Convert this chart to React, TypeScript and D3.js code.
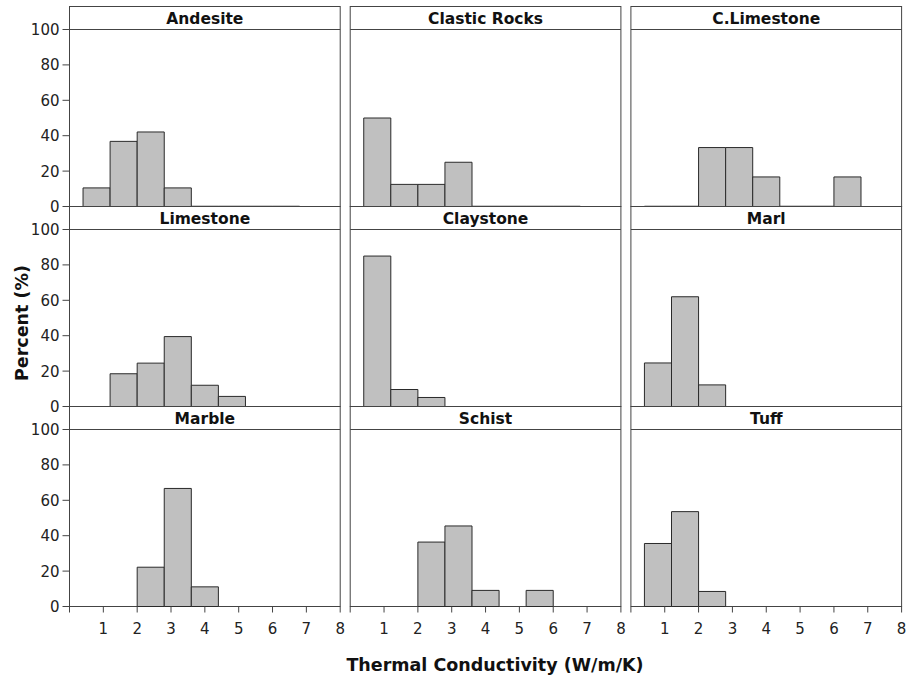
import React from "react";
import * as d3 from "d3";

// bins are 0.8 W/m/K wide, starting at 0.4
const binEdges = [0.4, 1.2, 2.0, 2.8, 3.6, 4.4, 5.2, 6.0, 6.8];

const rocks = [
  "Andesite",
  "Clastic Rocks",
  "C.Limestone",
  "Limestone",
  "Claystone",
  "Marl",
  "Marble",
  "Schist",
  "Tuff",
];

// percent per bin, null = no bar drawn
const andesite = [10.5, 36.8, 42.1, 10.5, 0, 0, 0, 0];
const clasticRocks = [50, 12.5, 12.5, 25, 0, 0, 0, 0];
const cLimestone = [0, 0, 33.3, 33.3, 16.7, 0, 0, 16.7];
const limestone = [null, 18.5, 24.5, 39.5, 12, 5.7, null, null];
const claystone = [85, 9.6, 5.1, null, null, null, null, null];
const marl = [24.6, 62, 12.2, null, null, null, null, null];
const marble = [null, null, 22.2, 66.7, 11.1, null, null, null];
const schist = [null, null, 36.4, 45.5, 9.1, null, 9.1, null];
const tuff = [35.6, 53.6, 8.5, null, null, null, null, null];

const series = [andesite, clasticRocks, cLimestone, limestone, claystone, marl, marble, schist, tuff];

const yTicks = [0, 20, 40, 60, 80, 100];
const xTicks = [0, 1, 2, 3, 4, 5, 6, 7, 8];

const left = 69.5;
const top = 6.5;
const pw = 270.7;
const gap = 10;
const stripH = 23;
const ph = 177;
const font = "'DejaVu Sans', Verdana, sans-serif";
const lineColor = "#444";

export default function App() {
  const x = d3.scaleLinear().domain([0, 8]).range([0, pw]);
  const y = d3.scaleLinear().domain([0, 100]).range([ph, 0]);

  return (
    <div style={{ position: "absolute", left: 0, top: 0 }}>
      <svg width={906} height={678} style={{ background: "#fff", display: "block" }}>
        {rocks.map((name, i) => {
          const col = i % 3;
          const row = Math.floor(i / 3);
          const px = left + col * (pw + gap);
          const py = top + row * (stripH + ph);
          const vals = series[i];
          return (
            <g key={name} transform={`translate(${px},${py})`}>
              <rect x={0} y={0} width={pw} height={stripH + ph} fill="#fff" stroke={lineColor} />
              <line x1={0} x2={pw} y1={stripH} y2={stripH} stroke={lineColor} />
              <text
                x={pw / 2}
                y={17.5}
                textAnchor="middle"
                fontFamily={font}
                fontWeight="bold"
                fontSize={15.5}
                fill="#111"
              >
                {name}
              </text>
              <g transform={`translate(0,${stripH})`}>
                {vals.map((v, b) => {
                  if (v === null) return null;
                  const x0 = x(binEdges[b]);
                  const x1 = x(binEdges[b + 1]);
                  const d = `M${x0},${y(0)}V${y(v)}H${x1}V${y(0)}Z`;
                  return (
                    <path
                      key={b}
                      d={d}
                      fill="#c0c0c0"
                      stroke="#2a2a2a"
                      strokeWidth={v === 0 ? 1.6 : 1}
                    />
                  );
                })}
                {col === 0 &&
                  yTicks.map((t) => (
                    <g key={t} transform={`translate(0,${y(t)})`}>
                      <line x1={-7} x2={0} stroke={lineColor} />
                      <text
                        x={-10}
                        dy="0.36em"
                        textAnchor="end"
                        fontFamily={font}
                        fontSize={15}
                        fill="#222"
                      >
                        {t}
                      </text>
                    </g>
                  ))}
                {row === 2 &&
                  xTicks.map((t) => (
                    <g key={t} transform={`translate(${x(t)},${ph})`}>
                      <line y1={0} y2={6} stroke={lineColor} />
                      {t > 0 && (
                        <text
                          y={27.5}
                          textAnchor="middle"
                          fontFamily={font}
                          fontSize={15}
                          fill="#222"
                        >
                          {t}
                        </text>
                      )}
                    </g>
                  ))}
              </g>
            </g>
          );
        })}
        <text
          x={495}
          y={671}
          textAnchor="middle"
          fontFamily={font}
          fontWeight="bold"
          fontSize={17.5}
          fill="#111"
        >
          Thermal Conductivity (W/m/K)
        </text>
        <text
          transform="translate(28,323) rotate(-90)"
          textAnchor="middle"
          fontFamily={font}
          fontWeight="bold"
          fontSize={17.5}
          fill="#111"
        >
          Percent (%)
        </text>
      </svg>
    </div>
  );
}
